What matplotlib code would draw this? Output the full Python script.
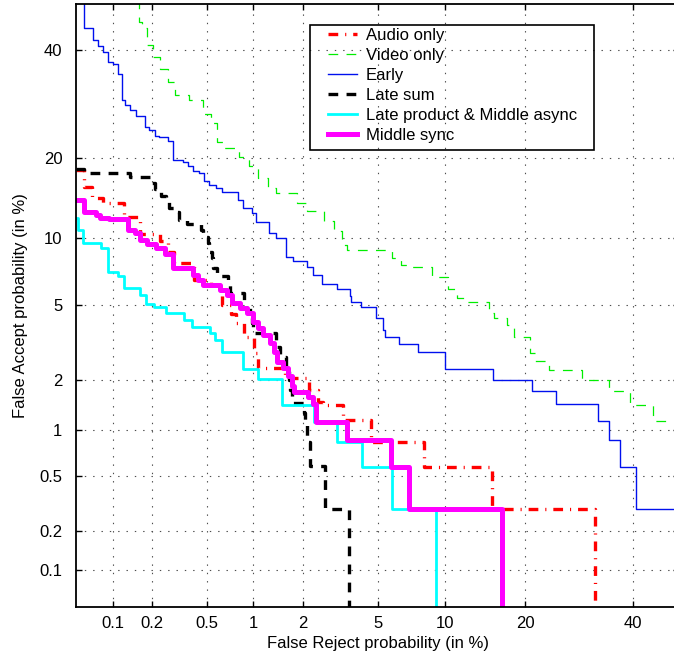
import matplotlib
matplotlib.use('Agg')
import matplotlib.pyplot as plt
import numpy as np
from statistics import NormalDist
from matplotlib.patches import Rectangle
from matplotlib.ticker import NullLocator

plt.rcParams['font.family'] = ['Liberation Sans', 'DejaVu Sans']
plt.rcParams['font.size'] = 12
plt.rcParams['lines.scale_dashes'] = False

# DET curves, false reject / false accept in %
audio_fr = [0.05, 0.058, 0.067, 0.083, 0.122, 0.163, 0.23, 0.264, 0.292, 0.405, 0.532, 0.63, 0.72,
            0.78, 0.877, 1.014, 1.07, 1.57, 2.17, 2.44, 2.59, 3.32, 4.63, 8.18, 15.35, 32.3]
audio_fa = [18.25, 15.9, 14.45, 13.85, 12.2, 10.4, 9.8, 8.8, 7.85, 6.6, 6.25, 5.0, 4.52,
            4.08, 3.45, 2.83, 2.34, 2.06, 1.76, 1.49, 1.43, 1.15, 0.84, 0.575, 0.29, 0.01]

video_fr = [0.16, 0.16, 0.167, 0.185, 0.203, 0.23, 0.265, 0.294, 0.376, 0.466, 0.532, 0.58, 0.637,
            0.81, 0.945, 1.08, 1.24, 1.39, 1.85, 2.1, 2.63, 2.98, 3.27, 3.47, 5.83, 6.45, 7.25,
            8.87, 10.3, 11.3, 12.2, 14.9, 15.6, 17.35, 18.4, 20.7, 21.6, 23.9, 29.7, 35.1, 39.3,
            44.2, 55]
video_fa = [60, 46, 44.7, 41.0, 38.6, 36.0, 33.5, 30.9, 30.0, 27.3, 25.8, 22.5, 21.5,
            20.2, 18.8, 17.1, 15.7, 15.1, 13.8, 12.9, 11.8, 10.74, 9.4, 8.9, 8.25, 7.7, 7.5,
            6.8, 6.0, 5.43, 5.15, 4.55, 4.3, 3.98, 3.43, 2.84, 2.57, 2.28, 2.0, 1.72, 1.43,
            1.14, 1.14]

early_fr = [0.058, 0.058, 0.0685, 0.0757, 0.083, 0.091, 0.1, 0.109, 0.117, 0.125, 0.135, 0.151,
            0.176, 0.19, 0.212, 0.227, 0.263, 0.286, 0.338, 0.366, 0.397, 0.441, 0.478, 0.515,
            0.575, 0.63, 0.8, 0.86, 0.99, 1.04, 1.26, 1.39, 1.6, 1.75, 2.1, 2.28, 2.55, 3.08,
            3.6, 3.67, 4.1, 4.9, 5.28, 5.41, 6.27, 7.72, 10.0, 15.5, 21.0, 25.1, 32.8, 35.1,
            37.2, 40.6, 55]
early_fa = [60, 44.7, 42.1, 40.8, 39.6, 37.5, 37.1, 35.0, 30.0, 29.0, 28.0, 27.0,
            25.1, 24.5, 23.5, 23.3, 22.7, 19.7, 19.4, 18.7, 18.1, 17.8, 16.6, 16.1,
            15.7, 15.2, 14.2, 13.2, 12.7, 11.7, 10.5, 10.05, 8.3, 8.03, 7.5, 6.9, 6.3, 6.0,
            5.5, 5.15, 4.9, 4.3, 3.73, 3.43, 3.17, 2.88, 2.3, 2.0, 1.72, 1.44, 1.14, 0.86,
            0.57, 0.29, 0.29]

late_sum_fr = [0.05, 0.058, 0.137, 0.194, 0.212, 0.234, 0.255, 0.269, 0.302, 0.318, 0.362, 0.453,
               0.468, 0.507, 0.515, 0.54, 0.55, 0.583, 0.69, 0.71, 0.878, 0.9, 0.99, 0.995,
               1.39, 1.47, 1.6, 1.66, 1.68, 1.73, 2.03, 2.06, 2.11, 2.12, 2.2, 2.66, 3.58]
late_sum_fa = [18.4, 17.7, 17.25, 16.4, 15.6, 14.7, 14.0, 13.2, 12.8, 11.9, 11.45, 10.8,
               10.15, 9.6, 8.8, 8.27, 7.47, 6.87, 6.25, 5.72, 5.18, 4.74, 4.08, 3.62,
               3.05, 2.7, 2.28, 2.0, 1.76, 1.47, 1.28, 1.12, 0.97, 0.84, 0.58, 0.29, 0.01]

late_prod_fr = [0.05, 0.052, 0.057, 0.08, 0.092, 0.11, 0.123, 0.163, 0.181, 0.208, 0.255, 0.345,
                0.393, 0.524, 0.566, 0.63, 0.865, 1.07, 1.51, 2.31, 3.09, 4.18, 5.85, 9.25]
late_prod_fa = [12.1, 10.8, 9.6, 9.13, 7.16, 6.87, 6.04, 5.6, 5.06, 4.9, 4.57, 4.22,
                3.9, 3.62, 3.32, 2.87, 2.31, 2.03, 1.43, 1.12, 0.84, 0.57, 0.29, 0.01]

mid_sync_fr = [0.05, 0.058, 0.073, 0.078, 0.093, 0.132, 0.149, 0.163, 0.185, 0.215, 0.251, 0.288,
               0.399, 0.432, 0.468, 0.61, 0.68, 0.734, 0.827, 0.917, 1.0, 1.07, 1.155, 1.28,
               1.35, 1.41, 1.53, 1.64, 1.73, 1.78, 2.14, 2.28, 2.37, 3.49, 5.78, 7.0, 16.7]
mid_sync_fa = [14.2, 12.8, 12.45, 12.1, 12.0, 10.8, 10.5, 9.86, 9.5, 9.13, 8.6, 7.47,
               6.94, 6.6, 6.25, 5.91, 5.6, 5.12, 4.84, 4.57, 4.13, 3.85, 3.53, 3.2,
               2.87, 2.53, 2.34, 2.11, 1.85, 1.71, 1.6, 1.45, 1.12, 0.86, 0.575, 0.29, 0.01]

ticks = [0.1, 0.2, 0.5, 1, 2, 5, 10, 20, 40]
tick_labels = ['0.1', '0.2', '0.5', '1', '2', '5', '10', '20', '40']

# normal deviate (probit) scale
_nd = NormalDist()
_ppf = np.vectorize(_nd.inv_cdf, otypes=[float])
_cdf = np.vectorize(_nd.cdf, otypes=[float])


def probit(p):
    p = np.clip(np.asarray(p, dtype=float) / 100.0, 1e-9, 1 - 1e-9)
    return _ppf(p)


def unprobit(z):
    return 100.0 * _cdf(np.asarray(z, dtype=float))


fig = plt.figure(figsize=(6.74, 6.58), dpi=100)
ax = fig.add_axes([0.1132, 0.078, 0.8948, 0.9166])
ax.set_xscale('function', functions=(probit, unprobit))
ax.set_yscale('function', functions=(probit, unprobit))

ax.plot(audio_fr, audio_fa, drawstyle='steps-post', color='red', lw=2.4,
        dashes=(7, 5, 0.8, 5), label='Audio only')
ax.plot(video_fr, video_fa, drawstyle='steps-post', color='#00ee00', lw=0.9,
        dashes=(7, 6), label='Video only')
ax.plot(early_fr, early_fa, drawstyle='steps-post', color='#0010ee', lw=1.0,
        label='Early')
ax.plot(late_sum_fr, late_sum_fa, drawstyle='steps-post', color='black', lw=2.4,
        dashes=(7, 6), label='Late sum')
ax.plot(late_prod_fr, late_prod_fa, drawstyle='steps-post', color='#00ffff', lw=2.0,
        label='Late product & Middle async')
ax.plot(mid_sync_fr, mid_sync_fa, drawstyle='steps-post', color='#ff00ff', lw=3.6,
        label='Middle sync')

ax.set_xlim(0.05, 50)
ax.set_ylim(0.05, 50)
ax.set_xticks(ticks)
ax.set_xticklabels(tick_labels)
ax.set_yticks(ticks)
ax.set_yticklabels(tick_labels)
ax.xaxis.set_minor_locator(NullLocator())
ax.yaxis.set_minor_locator(NullLocator())
ax.tick_params(direction='in', length=4, width=1, top=True, right=True, pad=7)
ax.tick_params(axis='y', pad=10)
ax.grid(True, color='0.3', lw=0.8, linestyle=(0, (1, 5)))
for s in ax.spines.values():
    s.set_linewidth(1.3)

ax.set_xlabel('False Reject probability (in %)', labelpad=3)
ax.set_ylabel('False Accept probability (in %)', labelpad=8)

ax.add_patch(Rectangle((0.3875, 0.7573), 0.4709, 0.2072, transform=ax.transAxes,
                       fill=False, edgecolor='black', lw=1.2, zorder=5))
ax.legend(loc='upper left', bbox_to_anchor=(0.4174, 0.960), frameon=False, borderpad=0,
          borderaxespad=0, handlelength=1.75, handletextpad=0.5, labelspacing=0.3)

fig.savefig('out.png', dpi=100)
